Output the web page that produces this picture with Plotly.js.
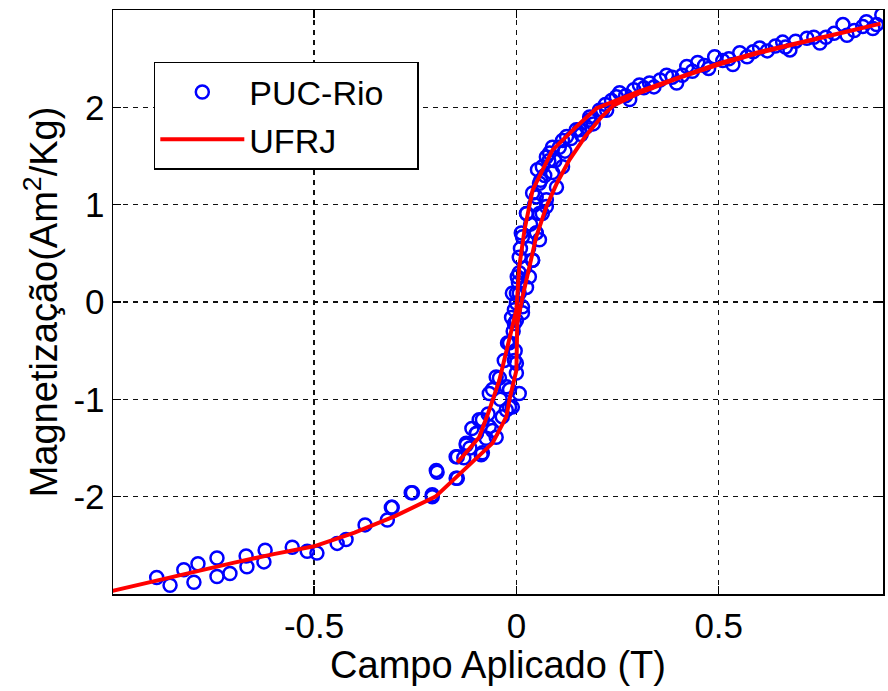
<!DOCTYPE html>
<html>
<head>
<meta charset="utf-8">
<script src="https://cdn.plot.ly/plotly-3.0.1.min.js"></script>
<style>html,body{margin:0;padding:0;background:#fff;}#chart{width:888px;height:691px;}</style>
</head>
<body>
<div id="chart"></div>
<script>
// PUC-Rio measured points (Campo Aplicado, Magnetização)
var pucX = [-0.889,-0.856,-0.822,-0.797,-0.787,-0.740,-0.740,-0.708,-0.668,-0.666,-0.621,-0.624,-0.554,-0.517,-0.493,-0.443,-0.421,-0.374,-0.319,-0.309,-0.260,
  -0.196,-0.208,-0.149,-0.146,-0.124,-0.099,-0.087,-0.084,-0.067,-0.059,-0.050,-0.042,-0.035,-0.025,-0.017,-0.010,0.000,-0.005,-0.022,-0.005,-0.012,0.000,0.007,
  -0.005,0.000,0.002,0.007,0.012,0.025,0.040,0.052,0.074,0.089,0.114,0.148,0.181,0.213,0.247,
  0.049,0.057,0.074,0.099,0.114,0.040,0.025,0.015,
  0.106,0.082,0.064,0.057,0.049,0.025,0.015,0.049,0.040,0.007,-0.010,0.000,-0.017,0.000,0.007,-0.025,-0.050,-0.017,-0.067,-0.092,-0.099,-0.124,-0.149,-0.059,-0.084,-0.198,-0.146,-0.257,-0.208,-0.307,
  0.124,0.156,0.181,0.223,0.089,0.074,0.064,0.057,0.032,0.015,
  0.030,0.035,0.045,0.060,0.070,0.080,0.095,0.120,0.135,0.160,0.190,0.020,0.010,0.005,-0.008,-0.003,-0.030,-0.040,-0.070,-0.075,-0.110,-0.115,-0.130,
  0.173,0.205,0.255,0.280,0.304,0.329,0.371,0.396,0.421,0.448,0.490,0.535,0.552,0.601,0.658,0.676,0.718,0.750,0.807,0.817,0.856,0.881,0.903,
  0.220,0.235,0.270,0.290,0.315,0.340,0.355,0.385,0.410,0.435,0.465,0.475,0.510,0.525,0.570,0.585,0.620,0.640,0.665,0.690,0.735,0.765,0.785,0.835,0.865,0.890];
var pucY = [-2.83,-2.91,-2.75,-2.88,-2.69,-2.63,-2.82,-2.79,-2.61,-2.72,-2.55,-2.67,-2.52,-2.56,-2.58,-2.48,-2.44,-2.29,-2.24,-2.11,-1.96,
  -1.75,-1.98,-1.81,-1.59,-1.47,-1.35,-1.57,-1.21,-1.28,-0.90,-1.39,-0.78,-1.18,-1.11,-0.90,-1.08,-0.73,-0.60,-0.42,-0.22,-0.16,-0.01,0.09,
  -0.08,0.09,0.26,0.46,0.71,0.91,1.12,1.36,1.49,1.59,1.66,1.77,1.90,1.97,2.11,
  0.71,0.91,0.98,1.18,1.39,0.43,0.15,-0.05,
  1.59,1.53,1.39,1.22,1.08,0.91,0.67,0.71,0.43,0.30,0.09,-0.19,-0.42,-0.63,-0.94,-0.87,-0.77,-1.08,-0.94,-1.21,-1.35,-1.45,-1.59,-1.32,-1.55,-1.73,-1.81,-1.96,-2.00,-2.11,
  1.70,1.77,1.87,1.97,1.33,1.05,0.91,0.64,0.26,-0.11,
  0.55,0.80,1.00,1.25,1.30,1.45,1.45,1.55,1.68,1.72,1.83,0.35,0.55,0.20,-0.30,-0.50,-0.60,-1.00,-1.15,-1.40,-1.30,-1.50,-1.60,
  1.80,1.97,2.15,2.08,2.23,2.25,2.33,2.25,2.42,2.46,2.52,2.44,2.56,2.61,2.67,2.59,2.71,2.66,2.85,2.74,2.83,2.81,2.95,
  2.03,2.07,2.12,2.18,2.20,2.21,2.28,2.31,2.33,2.37,2.43,2.40,2.48,2.50,2.52,2.57,2.58,2.63,2.62,2.68,2.72,2.72,2.76,2.79,2.88,2.85];

// UFRJ curve (ascending branch then descending branch)
var ufrjX = [-1.0,-0.9,-0.8,-0.7,-0.6,-0.5,-0.4,-0.3,-0.2,-0.149,-0.092,-0.059,-0.025,-0.017,0.0,0.002,0.015,0.032,0.049,0.074,0.100,0.131,0.170,0.210,0.240,0.3,0.4,0.5,0.6,0.7,0.8,0.9,
  0.8,0.7,0.6,0.5,0.4,0.3,0.198,0.148,0.089,0.04,0.02,0.007,0.0,-0.017,-0.042,-0.067,-0.092,-0.146];
var ufrjY = [-2.97,-2.87,-2.77,-2.68,-2.59,-2.51,-2.37,-2.20,-2.00,-1.80,-1.59,-1.45,-1.18,-1.00,-0.70,-0.22,0.05,0.36,0.67,0.98,1.22,1.46,1.70,1.90,2.02,2.14,2.30,2.44,2.56,2.66,2.76,2.86,
  2.77,2.67,2.57,2.45,2.31,2.16,1.99,1.80,1.56,1.15,0.74,0.36,-0.08,-0.39,-0.80,-1.11,-1.39,-1.65];

var xTicks = [-0.5, 0, 0.5];
var yTicks = [-2, -1, 0, 1, 2];

var FONT = '"Liberation Sans", Arial, sans-serif';

var traces = [
  {x: pucX, y: pucY, type: 'scatter', mode: 'markers', name: 'PUC-Rio\u00a0\u00a0\u00a0',
   marker: {symbol: 'circle-open', size: 13, color: '#0000ff', line: {width: 2.5, color: '#0000ff'}}},
  {x: ufrjX, y: ufrjY, type: 'scatter', mode: 'lines', name: 'UFRJ',
   line: {color: '#ff0000', width: 4}}
];

var axisCommon = {
  showline: true, linecolor: '#000', linewidth: 1.5, mirror: 'ticks',
  ticks: 'inside', ticklen: 8, tickwidth: 1.5, tickcolor: '#000',
  showgrid: true, gridcolor: '#111', gridwidth: 1.5, griddash: '5px,5px',
  zeroline: false, tickfont: {family: FONT, size: 35, color: '#000'}
};

var layout = {
  width: 888, height: 691,
  margin: {l: 113, r: 5, t: 10, b: 97},
  paper_bgcolor: '#fff', plot_bgcolor: '#fff',
  font: {family: FONT, color: '#000'},
  xaxis: Object.assign({}, axisCommon, {
    range: [-0.997, 0.906], tickvals: xTicks, ticktext: ['-0.5', '0', '0.5'],
    title: {text: 'Campo Aplicado (T)', font: {family: FONT, size: 38, color: '#000'}, standoff: 0}
  }),
  yaxis: Object.assign({}, axisCommon, {
    range: [-3, 3], tickvals: yTicks, ticktext: ['-2', '-1', '0', '1', '2'],
    title: {text: 'Magnetização(Am<sup>2</sup>/Kg)', font: {family: FONT, size: 38, color: '#000'}, standoff: 4}
  }),
  showlegend: true,
  legend: {x: 0.053, y: 0.911, xanchor: 'left', yanchor: 'top',
    bgcolor: '#fff', bordercolor: '#000', borderwidth: 1.5,
    font: {family: FONT, size: 34, color: '#000'}, itemwidth: 84, tracegroupgap: 0}
};

Plotly.newPlot('chart', traces, layout, {displayModeBar: false, staticPlot: true});
</script>
</body>
</html>
